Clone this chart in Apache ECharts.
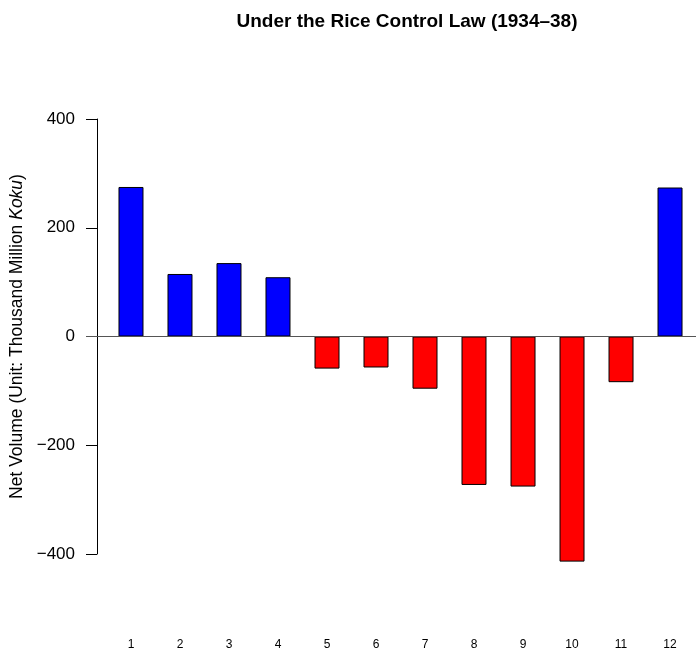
<!DOCTYPE html>
<html>
<head>
<meta charset="utf-8">
<script src="https://cdn.jsdelivr.net/npm/echarts@6/dist/echarts.min.js"></script>
<style>
html, body { margin: 0; padding: 0; background: #fff; }
#chart { width: 696px; height: 652px; }
</style>
</head>
<body>
<div id="chart"></div>
<script>
// months of the period and the net volume per month
var months = [1, 2, 3, 4, 5, 6, 7, 8, 9, 10, 11, 12];
var netVolume = [275, 115, 135, 109, -59, -57, -96, -273, -276, -414, -84, 274];
var yTicks = [-400, -200, 0, 200, 400];

var myChart = echarts.init(document.getElementById('chart'));
var font = '"Liberation Sans", Arial, sans-serif';

var option = {
  animation: false,
  backgroundColor: '#fff',
  title: {
    text: 'Under the Rice Control Law (1934\u201338)',
    left: 402,
    top: 7,
    textAlign: 'center',
    textStyle: { fontFamily: font, fontSize: 19, fontWeight: 'bold', color: '#000' }
  },
  grid: { left: 86, right: 0, top: 119, bottom: 98, outerBoundsMode: 'none' },
  xAxis: {
    type: 'value',
    min: 0.082,
    max: 12.53,
    axisLine: { show: false },
    axisTick: { show: false },
    splitLine: { show: false },
    axisLabel: {
      customValues: months,
      margin: 85,
      fontFamily: font,
      fontSize: 12,
      color: '#000'
    }
  },
  yAxis: {
    type: 'value',
    min: yTicks[0],
    max: yTicks[yTicks.length - 1],
    interval: 200,
    offset: -11,
    name: '{n|Net Volume (Unit: Thousand Million }{i|Koku}{n|)}',
    nameLocation: 'middle',
    nameRotate: 90,
    nameGap: 71,
    nameTextStyle: {
      rich: {
        n: { fontFamily: font, fontSize: 17.5, color: '#000' },
        i: { fontFamily: font, fontSize: 17.5, fontStyle: 'italic', color: '#000' }
      }
    },
    axisLine: { show: true, lineStyle: { color: '#000', width: 1 } },
    axisTick: { show: true, length: 11, lineStyle: { color: '#000' } },
    splitLine: { show: false },
    axisLabel: {
      margin: 22,
      fontFamily: font,
      fontSize: 17,
      color: '#000',
      formatter: function (v) { return v < 0 ? '\u2212' + Math.abs(v) : String(v); }
    }
  },
  series: [
    {
      type: 'bar',
      barWidth: 25,
      clip: false,
      data: months.map(function (m, i) {
        return {
          value: [m, netVolume[i]],
          itemStyle: { color: netVolume[i] > 0 ? '#0000ff' : '#ff0000' }
        };
      }),
      itemStyle: { borderColor: '#000', borderWidth: 1 },
      markLine: {
        silent: true,
        symbol: 'none',
        label: { show: false },
        lineStyle: { color: '#555', type: 'solid', width: 1 },
        data: [{ yAxis: 0 }]
      }
    }
  ]
};
myChart.setOption(option);
</script>
</body>
</html>
